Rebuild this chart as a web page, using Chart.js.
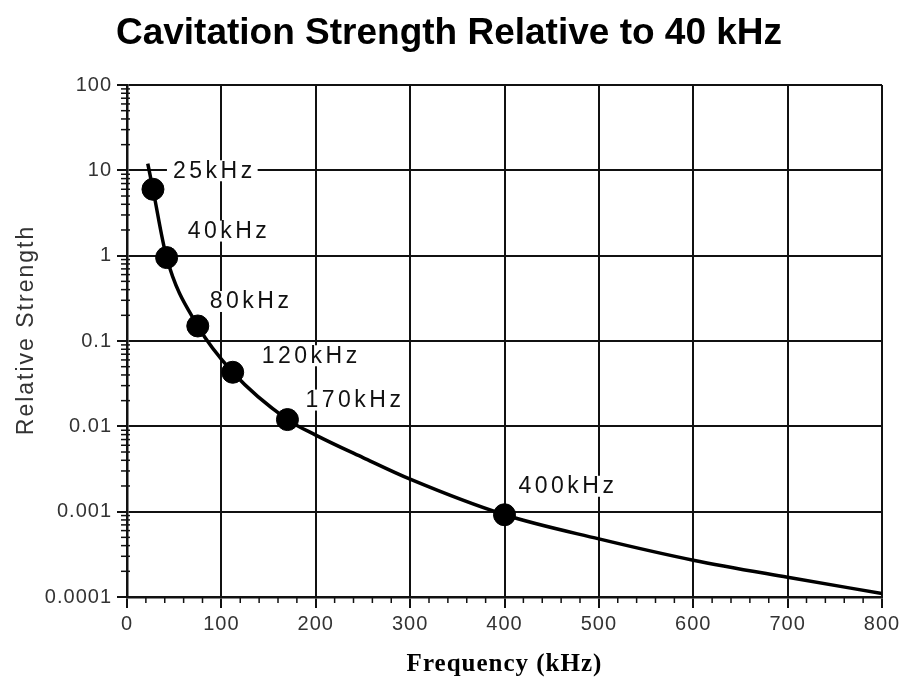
<!DOCTYPE html>
<html>
<head>
<meta charset="utf-8">
<script src="https://cdn.jsdelivr.net/npm/chart.js@4.4.1/dist/chart.umd.min.js"></script>
<style>
  html, body { margin: 0; padding: 0; background: #fff; }
  #wrap { width: 899px; height: 693px; position: relative; }
</style>
</head>
<body>
<div id="wrap"><canvas id="myChart"></canvas></div>
<script>
// curve
var curveFreq = [22, 27.5, 42, 75, 112, 170, 200, 250, 300, 400, 500, 600, 700, 800];
var curveStrength = [12, 6, 0.95, 0.15, 0.043, 0.012, 0.0079, 0.0043, 0.0024, 0.00092, 0.00048, 0.00027, 0.00017, 0.00011];

// marked frequencies
var markerFreq = [27.5, 42, 75, 112, 170, 400];
var markerStrength = [6, 0.95, 0.15, 0.043, 0.012, 0.00092];
var markerLabels = ['25kHz', '40kHz', '80kHz', '120kHz', '170kHz', '400kHz'];

// axes
var yTickValues = [0.0001, 0.001, 0.01, 0.1, 1, 10, 100];
var yTickLabels = ['0.0001', '0.001', '0.01', '0.1', '1', '10', '100'];
var xTickLabels = ['0', '100', '200', '300', '400', '500', '600', '700', '800'];

var titleText = 'Cavitation Strength Relative to 40 kHz';
var yTitleText = 'Relative Strength';

// where each label sits relative to its dot (px)
var labelOffsets = [[20, -19], [21, -27], [12, -25], [29, -17], [18, -20], [14, -29]];

function zip(xs, ys) {
    var out = [];
    for (var i = 0; i < xs.length; i++) out.push({x: xs[i], y: ys[i]});
    return out;
}

function isBigX(v) { return Math.abs(v % 100) < 1e-6; }

var LABEL_FONT = '23px "Liberation Sans"';
var LABEL_SPACING = '3.5px';

var spacingPlugin = {
    id: 'spacing',
    beforeLayout: function(chart) { chart.ctx.letterSpacing = '1px'; },
    beforeDraw: function(chart) { chart.ctx.letterSpacing = '1px'; }
};

var extrasPlugin = {
    id: 'extras',
    beforeDatasetsDraw: function(chart) {
        var ctx = chart.ctx;
        var xs = chart.scales.x, ys = chart.scales.y;
        ctx.save();
        ctx.strokeStyle = '#111';
        ctx.lineWidth = 1.5;
        // short minor ticks
        ys.ticks.forEach(function(t) {
            if (t.big) return;
            var py = ys.getPixelForValue(t.value);
            ctx.beginPath();
            ctx.moveTo(xs.left - 6, py);
            ctx.lineTo(xs.left + 3, py);
            ctx.stroke();
        });
        xs.ticks.forEach(function(t) {
            if (isBigX(t.value)) return;
            var px = xs.getPixelForValue(t.value);
            ctx.beginPath();
            ctx.moveTo(px, ys.bottom);
            ctx.lineTo(px, ys.bottom + 6);
            ctx.stroke();
        });
        // white patches behind the labels
        var meta = chart.getDatasetMeta(1);
        ctx.font = LABEL_FONT;
        ctx.letterSpacing = LABEL_SPACING;
        ctx.fillStyle = '#fff';
        meta.data.forEach(function(pt, i) {
            var w = ctx.measureText(markerLabels[i]).width;
            var lx = pt.x + labelOffsets[i][0];
            var ly = pt.y + labelOffsets[i][1];
            ctx.fillRect(lx - 6, ly - 10, w + 8, 21);
        });
        ctx.restore();
    },
    afterDatasetsDraw: function(chart) {
        var ctx = chart.ctx;
        var meta = chart.getDatasetMeta(1);
        ctx.save();
        ctx.font = LABEL_FONT;
        ctx.letterSpacing = LABEL_SPACING;
        ctx.fillStyle = '#111';
        ctx.textAlign = 'left';
        ctx.textBaseline = 'middle';
        meta.data.forEach(function(pt, i) {
            ctx.fillText(markerLabels[i], pt.x + labelOffsets[i][0], pt.y + labelOffsets[i][1] + 1);
        });
        ctx.restore();
    },
    afterDraw: function(chart) {
        var ctx = chart.ctx;
        ctx.save();
        ctx.letterSpacing = '0px';
        ctx.font = 'bold 37px "Liberation Sans"';
        ctx.fillStyle = '#000';
        ctx.textAlign = 'center';
        ctx.textBaseline = 'middle';
        ctx.fillText(titleText, 449, 34);
        // y axis title
        ctx.letterSpacing = '2px';
        ctx.font = '23px "Liberation Sans"';
        ctx.fillStyle = '#333';
        ctx.translate(27, 330);
        ctx.rotate(-Math.PI / 2);
        ctx.fillText(yTitleText, 0, 0);
        ctx.restore();
    }
};

window.onload = function() {
    var ctx = document.getElementById('myChart').getContext('2d');
    var chart = new Chart(ctx, {
        type: 'scatter',
        data: {
            datasets: [{
                data: zip(curveFreq, curveStrength),
                showLine: true,
                borderColor: '#000',
                borderWidth: 3.5,
                pointRadius: 0,
                pointHoverRadius: 0,
                cubicInterpolationMode: 'monotone',
                fill: false,
                order: 2
            }, {
                data: zip(markerFreq, markerStrength),
                showLine: false,
                pointRadius: 11,
                pointHoverRadius: 11,
                backgroundColor: '#000',
                borderColor: '#000',
                order: 1
            }]
        },
        options: {
            responsive: true,
            maintainAspectRatio: false,
            animation: false,
            events: [],
            layout: { padding: { top: 85, right: 0, left: 0, bottom: 0 } },
            plugins: {
                legend: { display: false },
                tooltip: { enabled: false },
                title: { display: false }
            },
            scales: {
                x: {
                    type: 'linear',
                    min: 0,
                    max: 800,
                    afterFit: function(s) { s.height = 96; s.paddingRight = 17; },
                    ticks: {
                        stepSize: 20,
                        autoSkip: false,
                        maxRotation: 0,
                        padding: 4,
                        color: '#333',
                        font: { family: 'Liberation Sans', size: 20 },
                        callback: function(v) { return isBigX(v) ? xTickLabels[Math.round(v / 100)] : ''; }
                    },
                    grid: {
                        lineWidth: 2,
                        tickLength: 11,
                        color: function(c) { return c.tick && isBigX(c.tick.value) ? '#111' : 'rgba(0,0,0,0)'; },
                        tickColor: function(c) { return c.tick && isBigX(c.tick.value) ? '#111' : 'rgba(0,0,0,0)'; }
                    },
                    border: { color: '#111', width: 2.5 },
                    title: {
                        display: true,
                        text: 'Frequency (kHz)',
                        color: '#000',
                        font: { family: 'Liberation Serif', size: 25, weight: 'bold' },
                        padding: { top: 0, bottom: 13 }
                    }
                },
                y: {
                    type: 'logarithmic',
                    min: 0.0001,
                    max: 100,
                    afterFit: function(s) { s.width = 127; },
                    afterBuildTicks: function(s) {
                        var ticks = [];
                        for (var j = 0; j < yTickValues.length; j++) {
                            ticks.push({ value: yTickValues[j], big: true, li: j });
                            if (j === yTickValues.length - 1) break;
                            for (var m = 2; m <= 9; m++) ticks.push({ value: m * yTickValues[j], big: false });
                        }
                        s.ticks = ticks;
                    },
                    ticks: {
                        autoSkip: false,
                        padding: 5,
                        color: '#333',
                        font: { family: 'Liberation Sans', size: 20 },
                        callback: function(v, i, ticks) { return ticks[i].big ? yTickLabels[ticks[i].li] : ''; }
                    },
                    grid: {
                        lineWidth: 2,
                        tickLength: 10,
                        color: function(c) { return c.tick && c.tick.big ? '#111' : 'rgba(0,0,0,0)'; },
                        tickColor: function(c) { return c.tick && c.tick.big ? '#111' : 'rgba(0,0,0,0)'; }
                    },
                    border: { color: '#111', width: 2.5 },
                    title: { display: false }
                }
            }
        },
        plugins: [spacingPlugin, extrasPlugin]
    });
};
</script>
</body>
</html>
